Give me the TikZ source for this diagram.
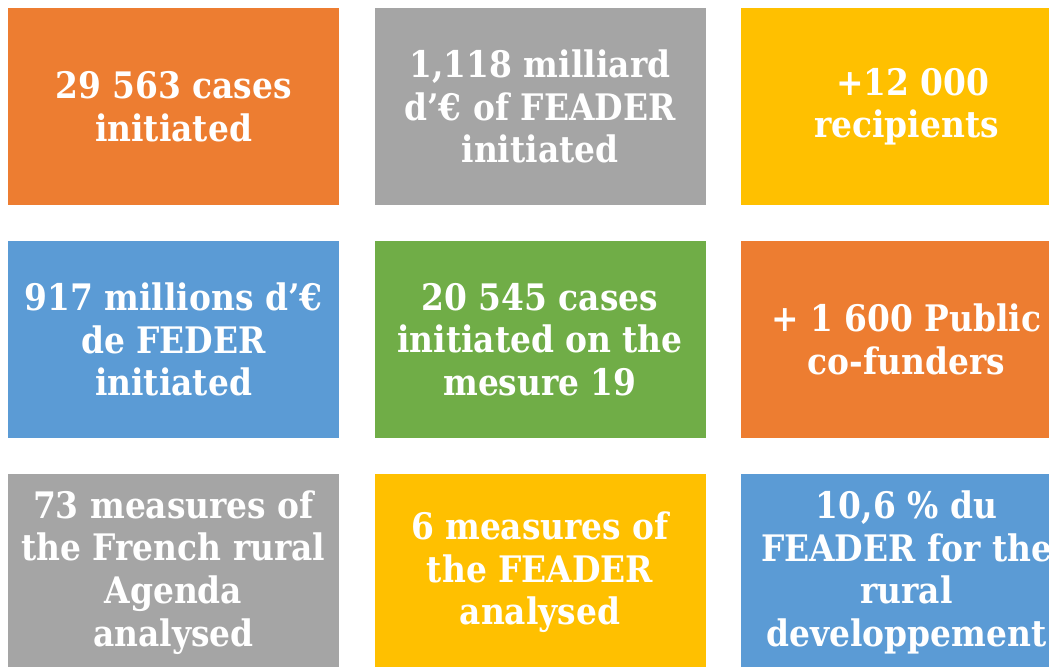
\documentclass[tikz,border=0pt]{standalone}
\usepackage{fontspec}
\newfontfamily\slab{DejaVu Serif Condensed}[BoldFont={DejaVu Serif Condensed Bold}]
\definecolor{cOrange}{HTML}{ED7D31}
\definecolor{cGray}{HTML}{A5A5A5}
\definecolor{cGold}{HTML}{FFC000}
\definecolor{cBlue}{HTML}{5B9BD5}
\definecolor{cGreen}{HTML}{70AD47}
\tikzset{
  tile/.style={rectangle, inner sep=0pt, minimum width=331*0.75pt, minimum height=197*0.75pt,
    fill=#1, text=white, align=center,
    font=\slab\bfseries\fontsize{27.4pt}{32pt}\selectfont},
}
\begin{document}
\begin{tikzpicture}[x=0.75pt,y=-0.75pt]
\clip (0,0) rectangle (1049,667);
\fill[white] (0,0) rectangle (1049,667);
\node[tile=cOrange] (a1) at (173.5,106.5) {29 563 cases\\initiated};
\node[tile=cGray] (a2) at (540,106.5) {1,118 milliard\\d’€ of FEADER\\initiated};
\node[tile=cGold] (a3) at (906.5,106.5) {\phantom{i}+12 000\\recipients};
\node[tile=cBlue] (b1) at (173.5,339.5) {917 millions d’€\\de FEDER\\initiated};
\node[tile=cGreen] (b2) at (540,339.5) {20 545 cases\\initiated on the\\mesure 19};
\node[tile=cOrange] (b3) at (906.5,339.5) {+ 1 600 Public\\co-funders};
\node[tile=cGray] (c1) at (173.5,572.5) {73 measures of\\the French rural\\Agenda\\analysed};
\node[tile=cGold] (c2) at (540,572.5) {6 measures of\\the FEADER\\analysed};
\node[tile=cBlue] (c3) at (906.5,572.5) {10,6 \% du\\FEADER for the\\rural\\developpement};
\end{tikzpicture}
\end{document}
